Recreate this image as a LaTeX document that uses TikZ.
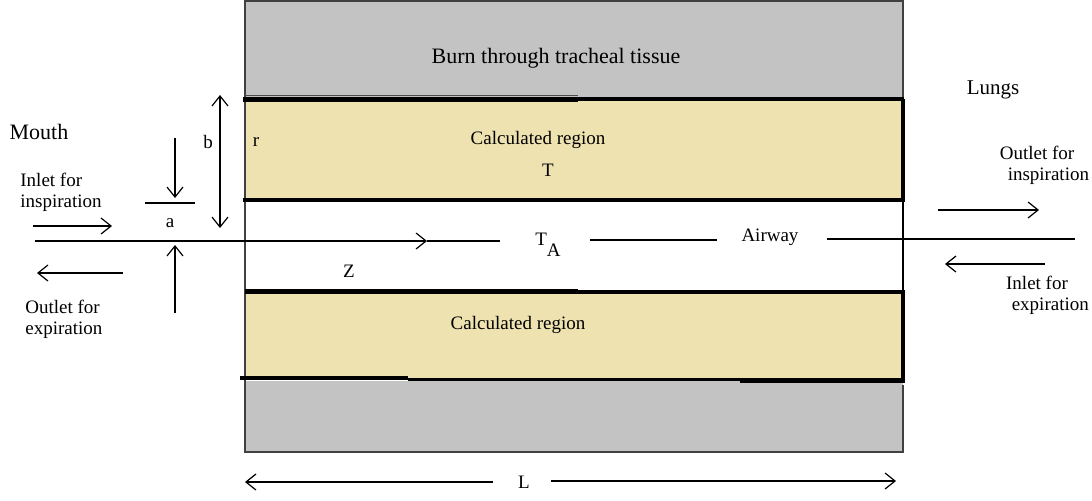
\documentclass[tikz,border=0pt]{standalone}
\usepackage{fontspec}
\setmainfont{Liberation Serif}
\usetikzlibrary{arrows.meta}
\definecolor{tissue}{HTML}{C3C3C3}
\definecolor{calc}{HTML}{EEE2B0}
\begin{document}
\begin{tikzpicture}[x=0.5pt,y=-0.5pt,
  font=\fontsize{9.5}{10.5}\selectfont,
  lbl/.style={inner sep=0pt},
  big/.style={inner sep=0pt,font=\fontsize{11}{13}\selectfont},
  thinline/.style={line width=0.65pt},
  edge/.style={line width=0.7pt,black!75},
  thick1/.style={line width=2pt},
  arr/.style={line width=0.6pt,-{Straight Barb[length=5pt,width=8pt,line width=0.6pt]}},
  darr/.style={line width=0.6pt,{Straight Barb[length=5pt,width=8pt,line width=0.6pt]}-{Straight Barb[length=5pt,width=8pt,line width=0.6pt]}}]
\useasboundingbox (0,0) rectangle (1092,500);
% regions
\fill[tissue] (245,1) rectangle (903,98);
\fill[calc] (245,99) rectangle (903,200);
\fill[calc] (245,292) rectangle (903,379);
\fill[tissue] (245,381) rectangle (903,452);
% outlines of tissue
\draw[edge] (245,98) -- (245,1) -- (903,1) -- (903,98);
\draw[edge] (245,381) -- (245,452) -- (903,452) -- (903,385);
\draw[edge] (245,98) -- (245,381);
\draw[thinline] (903,200) -- (903,292);
% thick boundaries
\draw[line width=0.6pt,black!70] (245,95.5) -- (578,95.5);
\draw[thick1] (243,99) -- (904,99);
\draw[line width=2.6pt] (243,99.3) -- (578,99.3);
\draw[line width=1.8pt] (903,99) -- (903,200);
\draw[thick1] (243,200) -- (905,200);
\draw[thick1] (245,292) -- (905,292);
\draw[line width=2.6pt] (245,291.7) -- (578,291.7);
\draw[line width=1.8pt] (903,292) -- (903,380);
\draw[line width=2.2pt] (240,378) -- (408,378);
\draw[line width=1.6pt] (408,379.5) -- (740,379.5);
\draw[line width=2.6pt] (740,380.5) -- (905,380.5);
% labels
\node[big] (burn) at (556,58) {Burn through tracheal tissue};
\node[lbl] (calcup) at (538,140) {Calculated region};
\node[lbl] (tt) at (548,170) {T};
\node[lbl] (calclow) at (518,325) {Calculated region};
\node[lbl] (rr) at (256,142) {r};
\node[lbl] (zz) at (349,271) {Z};
\node[lbl] (ta) at (548,245) {T\raisebox{-1.3ex}{A}};
\node[lbl] (airway) at (770,237) {Airway};
\node[big] (mouth) at (39,132) {Mouth};
\node[lbl,align=left,anchor=west] (inletin) at (20,192) {Inlet for\\inspiration};
\node[lbl,align=left,anchor=west] (outletex) at (25,319) {Outlet for\\expiration};
\node[lbl,font=\fontsize{10.5}{12}\selectfont] (lungs) at (993,90) {Lungs};
\node[lbl,align=center] (outletin) at (1037,165) {Outlet for\\\hspace*{1.2em}inspiration};
\node[lbl,align=center] (inletex) at (1037,295) {Inlet for\\\hspace*{1.4em}expiration};
\node[lbl] (aa) at (170,223) {a};
\node[lbl] (bb) at (208,142) {b};
\node[lbl] (ll) at (524,482) {L};
% coordinates
\coordinate (axL) at (35,241);
\coordinate (axM) at (427,241);
\coordinate (axE) at (500,241);
\coordinate (ax2a) at (590,240);
\coordinate (ax2b) at (717,240);
\coordinate (ax3a) at (827,239);
\coordinate (ax3b) at (1075,239);
% axis
\draw[arr] (axL) -- (axM);
\draw[thinline] (axM) -- (axE);
\draw[thinline] (ax2a) -- (ax2b);
\draw[thinline] (ax3a) -- (ax3b);
% left side arrows
\coordinate (in1) at (33,226); \coordinate (in2) at (112,226);
\draw[arr] (in1) -- (in2);
\coordinate (ex1) at (123,273); \coordinate (ex2) at (37,273);
\draw[arr] (ex1) -- (ex2);
\coordinate (dn1) at (175,138); \coordinate (dn2) at (175,198);
\draw[arr] (dn1) -- (dn2);
\coordinate (up1) at (175,313); \coordinate (up2) at (175,245);
\draw[arr] (up1) -- (up2);
\coordinate (ah1) at (145,203); \coordinate (ah2) at (195,203);
\draw[thinline] (ah1) -- (ah2);
\coordinate (b1) at (220,95); \coordinate (b2) at (220,228);
\draw[darr] (b1) -- (b2);
% right side arrows
\coordinate (oi1) at (938,210); \coordinate (oi2) at (1039,210);
\draw[arr] (oi1) -- (oi2);
\coordinate (ie1) at (1045,264); \coordinate (ie2) at (945,264);
\draw[arr] (ie1) -- (ie2);
% L arrow
\coordinate (L1) at (493,482); \coordinate (L0) at (245,482);
\coordinate (L2) at (551,481); \coordinate (L3) at (896,481);
\draw[arr] (L1) -- (L0);
\draw[arr] (L2) -- (L3);
\end{tikzpicture}
\end{document}
